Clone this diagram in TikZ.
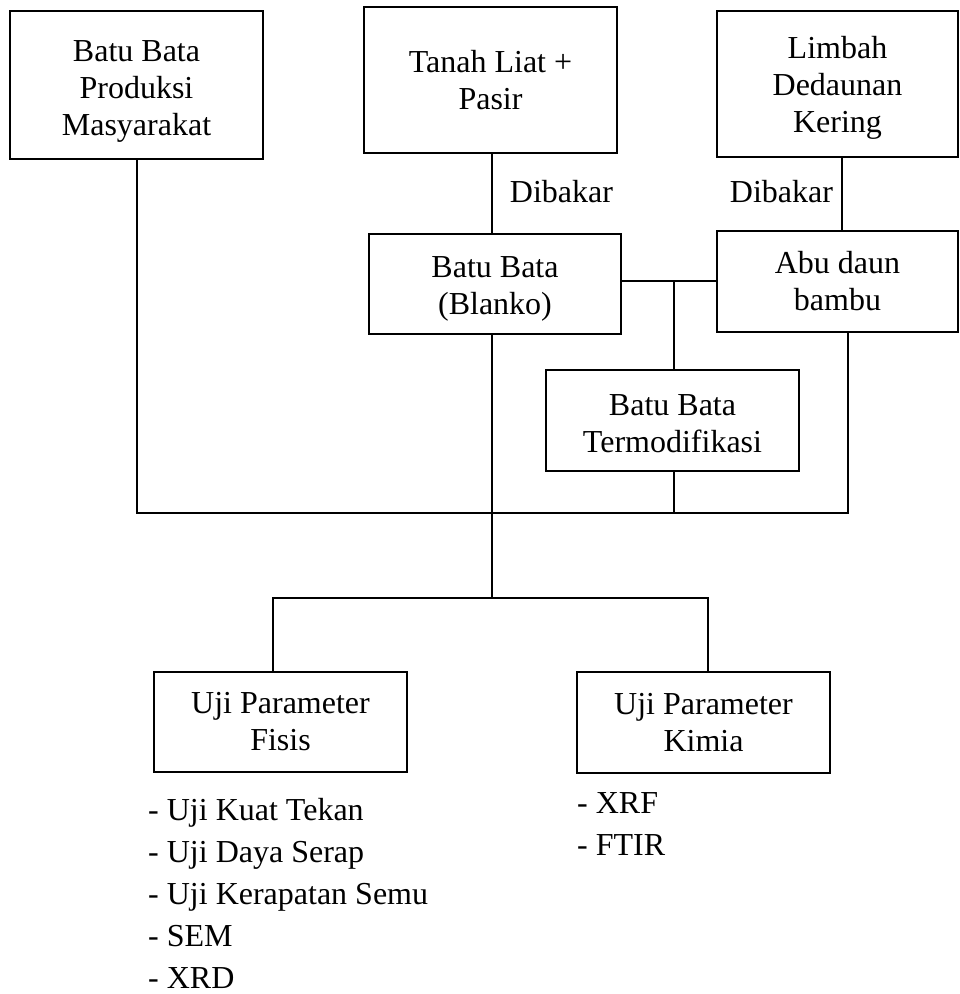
\documentclass[tikz,border=0pt]{standalone}
\usepackage{fontspec}
\setmainfont{Liberation Serif}
\begin{document}
\begin{tikzpicture}[x=1pt,y=-1pt,
 box/.style={draw, line width=2.5pt, align=center, inner sep=0pt, font=\fontsize{32}{37}\selectfont},
 conn/.style={line width=1.2pt},
 lbl/.style={inner sep=0pt, font=\fontsize{32}{37}\selectfont}]
\useasboundingbox[fill=white] (0,0) rectangle (960,994);
% boxes
\node[box, minimum width=253pt, minimum height=148pt] (prod) at (136.5,85) {\rule{0pt}{34pt}Batu Bata\\Produksi\\Masyarakat};
\node[box, minimum width=253pt, minimum height=146pt] (tanah) at (490.5,80) {Tanah Liat +\\Pasir};
\node[box, minimum width=241pt, minimum height=146pt] (limbah) at (837.5,84) {\rule{0pt}{30pt}Limbah\\Dedaunan\\Kering};
\node[box, minimum width=252pt, minimum height=100pt] (blanko) at (495,284) {\rule{0pt}{30pt}Batu Bata\\(Blanko)};
\node[box, minimum width=241pt, minimum height=101pt] (abu) at (837.5,281.5) {Abu daun\\bambu};
\node[box, minimum width=253pt, minimum height=101pt] (termod) at (672.5,420.5) {\rule{0pt}{28pt}Batu Bata\\Termodifikasi};
\node[box, minimum width=253pt, minimum height=100pt] (fisis) at (280.5,722) {Uji Parameter\\Fisis};
\node[box, minimum width=253pt, minimum height=101pt] (kimia) at (703.5,722.5) {Uji Parameter\\Kimia};
% labels
\node[lbl, anchor=base] (d1) at (561.5,202) {Dibakar};
\node[lbl, anchor=base] (d2) at (781.5,202) {Dibakar};
% lists
\node[lbl, anchor=base west] (f1) at (148,820) {- Uji Kuat Tekan};
\node[lbl, anchor=base west] (f2) at (148,862) {- Uji Daya Serap};
\node[lbl, anchor=base west] (f3) at (148,904) {- Uji Kerapatan Semu};
\node[lbl, anchor=base west] (f4) at (148,946) {- SEM};
\node[lbl, anchor=base west] (f5) at (148,988) {- XRD};
\node[lbl, anchor=base west] (k1) at (577,813) {- XRF};
\node[lbl, anchor=base west] (k2) at (577,855) {- FTIR};
% junction coordinates
\coordinate (tb) at (492,0);
\coordinate (lb) at (842,0);
\coordinate (j1) at (674,281);
\coordinate (busL) at (137,513);
\coordinate (busR) at (848,513);
\coordinate (jt) at (674,513);
\coordinate (jm) at (492,513);
\coordinate (low) at (492,598);
\coordinate (lowL) at (273,598);
\coordinate (lowR) at (708,598);
% connectors
\draw[conn] (tb |- tanah.south) -- (tb |- blanko.north);
\draw[conn] (lb |- limbah.south) -- (lb |- abu.north);
\draw[conn] (blanko.east |- j1) -- (abu.west |- j1);
\draw[conn] (j1) -- (j1 |- termod.north);
\draw[conn] (busL |- prod.south) -- (busL) -- (busR) -- (busR |- abu.south);
\draw[conn] (jt |- termod.south) -- (jt);
\draw[conn] (jm |- blanko.south) -- (low);
\draw[conn] (lowL |- fisis.north) -- (lowL) -- (lowR) -- (lowR |- kimia.north);
\end{tikzpicture}
\end{document}
